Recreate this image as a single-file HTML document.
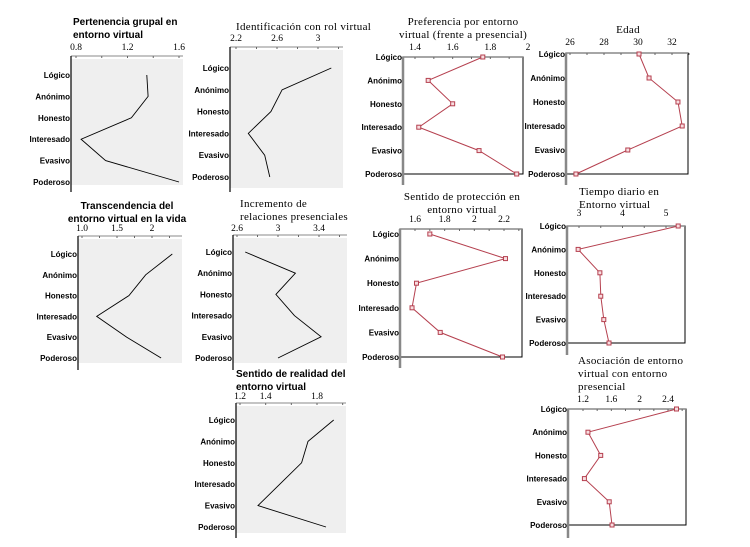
<!DOCTYPE html>
<html><head><meta charset="utf-8">
<style>
html,body{margin:0;padding:0;background:#fff;}
svg{display:block;}
.cat{font-family:"Liberation Sans",sans-serif;font-weight:bold;font-size:8px;fill:#000;}
.tick{font-family:"Liberation Serif",serif;font-weight:normal;font-size:9.5px;fill:#000;}
.ts{font-family:"Liberation Sans",sans-serif;font-weight:bold;font-size:10px;fill:#000;}
.tr{font-family:"Liberation Serif",serif;font-weight:normal;font-size:11px;fill:#000;letter-spacing:0.3px;}
</style></head>
<body>
<svg id="chart" width="750" height="547" viewBox="0 0 750 547"></svg>
<script>
const categories = ["Lógico","Anónimo","Honesto","Interesado","Evasivo","Poderoso"];

const pertenenciaValues = [1.35, 1.36, 1.23, 0.84, 1.03, 1.60];
const pertenenciaTicks = [0.8, 1.2, 1.6];
const identificacionValues = [3.13, 2.65, 2.54, 2.32, 2.48, 2.53];
const identificacionTicks = [2.2, 2.6, 3];
const preferenciaValues = [1.76, 1.47, 1.60, 1.42, 1.74, 1.94];
const preferenciaTicks = [1.4, 1.6, 1.8, 2];
const edadValues = [30.06, 30.65, 32.35, 32.6, 29.4, 26.35];
const edadTicks = [26, 28, 30, 32];
const transcendenciaValues = [2.29, 1.91, 1.67, 1.21, 1.64, 2.13];
const transcendenciaTicks = [1.0, 1.5, 2];
const incrementoValues = [2.68, 3.17, 2.98, 3.16, 3.42, 3.0];
const incrementoTicks = [2.6, 3, 3.4];
const proteccionValues = [1.70, 2.21, 1.61, 1.58, 1.77, 2.19];
const proteccionTicks = [1.6, 1.8, 2, 2.2];
const tiempoValues = [5.28, 2.98, 3.48, 3.5, 3.57, 3.69];
const tiempoTicks = [3, 4, 5];
const realidadValues = [1.93, 1.73, 1.68, 1.51, 1.34, 1.87];
const realidadTicks = [1.2, 1.4, 1.8];
const asociacionValues = [2.52, 1.27, 1.45, 1.22, 1.57, 1.61];
const asociacionTicks = [1.2, 1.6, 2, 2.4];

const NS = "http://www.w3.org/2000/svg";
const svg = document.getElementById("chart");
function mk(tag, attrs, parent){
  const e = document.createElementNS(NS, tag);
  for (const k in attrs) e.setAttribute(k, attrs[k]);
  (parent||svg).appendChild(e);
  return e;
}

const panels = [
 {id:"pertenencia", style:"gray", titleCls:"ts", title:["Pertenencia grupal en","entorno virtual"], tx:73, ty:25, anchor:"start",
  box:[71,183,59,185], axisBottom:192, dom:[0.8,76,1.6,179], cat:[75,182], tickY:50, vals:pertenenciaValues, ticks:pertenenciaTicks, minor:0.2},
 {id:"identificacion", style:"gray", titleCls:"tr", title:["Identificación con rol virtual"], tx:236, ty:30, anchor:"start",
  box:[230,343,50,188], axisBottom:192, dom:[2.2,236,3,318], cat:[68,177], tickY:41, vals:identificacionValues, ticks:identificacionTicks, minor:0.2},
 {id:"preferencia", style:"red", titleCls:"tr", title:["Preferencia por entorno","virtual (frente a presencial)"], tx:463, ty:25, anchor:"middle",
  box:[403,523,57,174], axisBottom:185, dom:[1.4,415,2,528], cat:[57,174], tickY:50, vals:preferenciaValues, ticks:preferenciaTicks, minor:0.1},
 {id:"edad", style:"red", titleCls:"tr", title:["Edad"], tx:628, ty:33, anchor:"middle",
  box:[566,688,53,174], axisBottom:185, dom:[26,570,32,672], cat:[54,174], tickY:45, vals:edadValues, ticks:edadTicks, minor:1},
 {id:"transcendencia", style:"gray", titleCls:"ts", title:["Transcendencia del","entorno virtual en la vida"], tx:127, ty:209, anchor:"middle",
  box:[78,182,239,363], axisBottom:370, dom:[1.0,82,2,152], cat:[254,358], tickY:231, vals:transcendenciaValues, ticks:transcendenciaTicks, minor:0.25},
 {id:"incremento", style:"gray", titleCls:"tr", title:["Incremento de","relaciones presenciales"], tx:240, ty:207, anchor:"start",
  box:[233,347,238,363], axisBottom:370, dom:[2.6,237,3.4,319], cat:[252,358], tickY:231, vals:incrementoValues, ticks:incrementoTicks, minor:0.2},
 {id:"proteccion", style:"red", titleCls:"tr", title:["Sentido de protección en","entorno virtual"], tx:462, ty:200, anchor:"middle",
  box:[400,522,229,357], axisBottom:368, dom:[1.6,415,2.2,504], cat:[234,357], tickY:222, vals:proteccionValues, ticks:proteccionTicks, minor:0.1},
 {id:"tiempo", style:"red", titleCls:"tr", title:["Tiempo diario en","Entorno virtual"], tx:579, ty:195, anchor:"start",
  box:[567,685,226,343], axisBottom:355, dom:[3,579,5,666], cat:[226,343], tickY:216, vals:tiempoValues, ticks:tiempoTicks, minor:0.5},
 {id:"realidad", style:"gray", titleCls:"ts", title:["Sentido de realidad del","entorno virtual"], tx:236, ty:377, anchor:"start",
  box:[236,346,406,533], axisBottom:538, dom:[1.2,240,1.8,317], cat:[420,527], tickY:399, vals:realidadValues, ticks:realidadTicks, minor:0.2},
 {id:"asociacion", style:"red", titleCls:"tr", title:["Asociación de entorno","virtual con entorno","presencial"], tx:578, ty:364, anchor:"start",
  box:[568,686,409,525], axisBottom:538, dom:[1.2,583,2.4,668], cat:[409,525], tickY:402, vals:asociacionValues, ticks:asociacionTicks, minor:0.2}
];

panels.forEach(p => {
  const g = mk("g", {});
  
  
  const [x0,x1,y0,y1] = p.box;
  const xs = v => p.dom[1] + (v - p.dom[0]) * (p.dom[3] - p.dom[1]) / (p.dom[2] - p.dom[0]);
  const ys = i => p.cat[0] + i * (p.cat[1] - p.cat[0]) / (categories.length - 1);

  p.title.forEach((t, i) => {
    const te = mk("text", {x:p.tx, y:p.ty + i*13, class:p.titleCls, "text-anchor":p.anchor}, g);
    
    
    te.textContent = t;
  });

  if (p.style === "gray") {
    const r = mk("rect", {x:x0, y:y0, width:x1-x0, height:y1-y0, fill:"#efefef"}, g);
    
    
    mk("line", {x1:x0, y1:y0-3, x2:x1, y2:y0-3, stroke:"#888", "stroke-width":1}, g);
    mk("line", {x1:x0, y1:y0-3, x2:x0, y2:p.axisBottom, stroke:"#000", "stroke-width":1.2}, g);
  } else {
    const r = mk("rect", {x:x0, y:y0, width:x1-x0, height:y1-y0, fill:"#fff", stroke:"#000", "stroke-width":1}, g);
    
    
    mk("line", {x1:x0, y1:y0, x2:x1, y2:y0, stroke:"#888", "stroke-width":1.5}, g);
    mk("line", {x1:x0, y1:y0, x2:x0, y2:p.axisBottom, stroke:"#888", "stroke-width":2.5}, g);
  }

  const tickBase = p.style === "gray" ? y0-3 : y0;
  for (let v = p.ticks[0]; xs(v) <= x1 + 1; v += p.minor) {
    mk("line", {x1:xs(v), y1:tickBase, x2:xs(v), y2:tickBase+2, stroke:"#666", "stroke-width":1}, g);
  }
  p.ticks.forEach(v => {
    const te = mk("text", {x:xs(v), y:p.tickY, class:"tick", "text-anchor":"middle"}, g);
    
    
    te.textContent = (p.id === "transcendencia" && v === 1) ? "1.0" : String(v);
  });

  categories.forEach((c, i) => {
    const te = mk("text", {x:x0-1, y:ys(i)+3, class:"cat", "text-anchor":"end"}, g);
    
    
    te.textContent = c;
  });

  const pts = p.vals.map((v, i) => xs(v).toFixed(1) + "," + ys(i).toFixed(1)).join(" ");
  const color = p.style === "gray" ? "#000" : "#b5404f";
  const pl = mk("polyline", {points:pts, fill:"none", stroke:color, "stroke-width":p.style === "gray" ? 0.9 : 1}, g);
  
  

  if (p.style === "red") {
    p.vals.forEach((v, i) => {
      const m = mk("rect", {x:xs(v)-2, y:ys(i)-2, width:4, height:4, fill:"#f8dde0", stroke:"#b5404f", "stroke-width":1}, g);
      
      
    });
  }
});
</script>
</body></html>
